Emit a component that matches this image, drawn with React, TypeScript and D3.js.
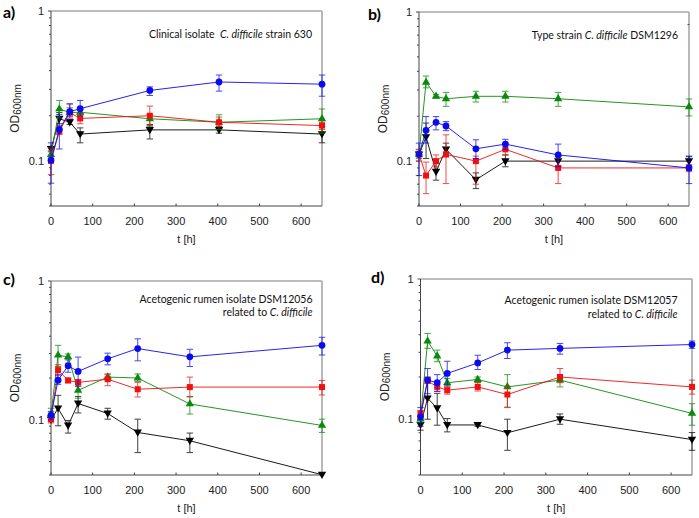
import React from 'react';
import * as d3 from 'd3';

// ---------- data ----------
const TIME_A = [0, 20, 45, 70, 237, 403, 650];
const TIME_B = [0, 17, 41, 65, 137, 208, 335, 650];
const TIME_C = [0, 17, 41, 65, 136, 208, 333, 650];
const TIME_D = [0, 17, 40, 64, 137, 208, 334, 650];

// panel a
const A_BLUE = [0.101, 0.162, 0.213, 0.223, 0.295, 0.336, 0.325];
const A_BLUE_HI = [0.132, 0.204, 0.24, 0.253, 0.312, 0.374, 0.374];
const A_BLUE_LO = [0.071, 0.12, 0.193, 0.2, 0.273, 0.292, 0.27];
const A_RED = [0.1, 0.158, 0.21, 0.192, 0.2, 0.181, 0.172];
const A_RED_HI = [0.122, 0.172, 0.24, 0.207, 0.232, 0.196, 0.181];
const A_RED_LO = [0.081, 0.15, 0.198, 0.177, 0.172, 0.17, 0.162];
const A_GREEN = [0.11, 0.222, 0.21, 0.211, 0.191, 0.181, 0.191];
const A_GREEN_HI = [0.118, 0.253, 0.226, 0.22, 0.204, 0.203, 0.222];
const A_GREEN_LO = [0.104, 0.193, 0.2, 0.204, 0.17, 0.162, 0.153];
const A_BLACK = [0.12, 0.191, 0.181, 0.151, 0.161, 0.161, 0.151];
const A_BLACK_HI = [0.125, 0.21, 0.188, 0.166, 0.175, 0.17, 0.17];
const A_BLACK_LO = [0.115, 0.177, 0.175, 0.132, 0.14, 0.153, 0.132];

// panel b
const B_BLUE = [0.111, 0.161, 0.182, 0.172, 0.121, 0.13, 0.11, 0.09];
const B_BLUE_HI = [0.132, 0.199, 0.199, 0.184, 0.139, 0.14, 0.13, 0.107];
const B_BLUE_LO = [0.08, 0.132, 0.162, 0.16, 0.104, 0.12, 0.0916, 0.0707];
const B_RED = [0.111, 0.08, 0.1, 0.111, 0.1, 0.12, 0.09, 0.09];
const B_RED_HI = [0.12, 0.0985, 0.11, 0.15, 0.108, 0.132, 0.107, 0.095];
const B_RED_LO = [0.1, 0.0605, 0.0916, 0.0707, 0.07, 0.11, 0.0707, 0.085];
const B_GREEN = [0.111, 0.338, 0.272, 0.262, 0.272, 0.272, 0.262, 0.231];
const B_GREEN_HI = [0.119, 0.372, 0.28, 0.289, 0.294, 0.294, 0.289, 0.261];
const B_GREEN_LO = [0.104, 0.31, 0.265, 0.233, 0.249, 0.249, 0.233, 0.201];
const B_BLACK = [0.111, 0.145, 0.085, 0.12, 0.075, 0.1, 0.1, 0.1];
const B_BLACK_HI = [0.115, 0.18, 0.0964, 0.132, 0.0834, 0.11, 0.108, 0.108];
const B_BLACK_LO = [0.107, 0.104, 0.0745, 0.107, 0.0654, 0.0916, 0.0925, 0.0916];

// panel c
const C_BLUE = [0.108, 0.193, 0.245, 0.223, 0.275, 0.326, 0.284, 0.344];
const C_BLUE_HI = [0.115, 0.21, 0.27, 0.283, 0.302, 0.383, 0.322, 0.393];
const C_BLUE_LO = [0.1, 0.18, 0.22, 0.174, 0.249, 0.266, 0.242, 0.293];
const C_RED = [0.101, 0.228, 0.192, 0.186, 0.196, 0.166, 0.172, 0.172];
const C_RED_HI = [0.105, 0.249, 0.2, 0.195, 0.214, 0.186, 0.203, 0.192];
const C_RED_LO = [0.095, 0.211, 0.185, 0.178, 0.176, 0.146, 0.146, 0.151];
const C_GREEN = [0.11, 0.292, 0.284, 0.163, 0.203, 0.2, 0.13, 0.091];
const C_GREEN_HI = [0.121, 0.344, 0.298, 0.184, 0.211, 0.214, 0.147, 0.101];
const C_GREEN_LO = [0.101, 0.242, 0.256, 0.143, 0.194, 0.189, 0.11, 0.0811];
const C_BLACK = [0.1, 0.121, 0.091, 0.131, 0.111, 0.081, 0.0706, 0.0402];
const C_BLACK_HI = [0.104, 0.15, 0.0989, 0.147, 0.121, 0.101, 0.0802, 0.0402];
const C_BLACK_LO = [0.097, 0.0905, 0.0802, 0.112, 0.101, 0.058, 0.058, 0.0402];

// panel d
const D_BLUE = [0.104, 0.19, 0.182, 0.212, 0.252, 0.311, 0.32, 0.341];
const D_BLUE_HI = [0.121, 0.23, 0.208, 0.259, 0.286, 0.351, 0.347, 0.361];
const D_BLUE_LO = [0.089, 0.152, 0.158, 0.175, 0.226, 0.271, 0.291, 0.32];
const D_RED = [0.11, 0.188, 0.17, 0.161, 0.17, 0.15, 0.2, 0.17];
const D_RED_HI = [0.115, 0.2, 0.185, 0.17, 0.182, 0.172, 0.23, 0.19];
const D_RED_LO = [0.105, 0.18, 0.158, 0.151, 0.159, 0.121, 0.182, 0.151];
const D_GREEN = [0.1, 0.361, 0.282, 0.182, 0.192, 0.17, 0.19, 0.11];
const D_GREEN_HI = [0.105, 0.409, 0.311, 0.195, 0.2, 0.208, 0.206, 0.129];
const D_GREEN_LO = [0.095, 0.32, 0.257, 0.17, 0.183, 0.122, 0.17, 0.0906];
const D_BLACK = [0.091, 0.141, 0.12, 0.091, 0.091, 0.08, 0.1, 0.0716];
const D_BLACK_HI = [0.1, 0.199, 0.153, 0.101, 0.093, 0.1, 0.109, 0.0803];
const D_BLACK_LO = [0.0835, 0.1, 0.0906, 0.0812, 0.089, 0.06, 0.092, 0.06];

const X_TICKS = [0, 100, 200, 300, 400, 500, 600];
const Y_LABELS = [0.1, 1];
const PANEL_LETTERS = ['a)', 'b)', 'c)', 'd)'];
const X_TITLE = 't [h]';
const NOTE_A = [[['Clinical isolate\u00a0\u00a0', false], ['C. difficile', true], [' strain 630', false]]];
const NOTE_B = [[['Type strain ', false], ['C. difficile', true], [' DSM1296', false]]];
const NOTE_C = [[['Acetogenic rumen isolate DSM12056', false]], [['related to ', false], ['C. difficile', true]]];
const NOTE_D = [[['Acetogenic rumen isolate DSM12057', false]], [['related to ', false], ['C. difficile', true]]];

// ---------- styles ----------
const COLORS = { black: '#000000', green: '#0a8a0a', red: '#f01010', blue: '#0a0af0' };
const SHAPES = {
  black: { type: d3.symbolTriangle, size: 30, rot: 180 },
  green: { type: d3.symbolTriangle, size: 30, rot: 0 },
  red: { type: d3.symbolSquare, size: 36, rot: 0 },
  blue: { type: d3.symbolCircle, size: 36, rot: 0 },
};

const mk = (v, hi, lo) => ({ v, hi, lo });

const PANELS = [
  {
    letter: PANEL_LETTERS[0], time: TIME_A, yMin: 0.05,
    box: { left: 51, right: 322, top: 11, bottom: 206 },
    letterPos: [3, 18], notes: NOTE_A, noteX: 312, noteY: [37.5], noteW: [158],
    series: {
      black: mk(A_BLACK, A_BLACK_HI, A_BLACK_LO), green: mk(A_GREEN, A_GREEN_HI, A_GREEN_LO),
      red: mk(A_RED, A_RED_HI, A_RED_LO), blue: mk(A_BLUE, A_BLUE_HI, A_BLUE_LO),
    },
  },
  {
    letter: PANEL_LETTERS[1], time: TIME_B, yMin: 0.05,
    box: { left: 419, right: 689, top: 12, bottom: 206 },
    letterPos: [368, 20], notes: NOTE_B, noteX: 678, noteY: [38.5], noteW: [141], stray: true,
    series: {
      black: mk(B_BLACK, B_BLACK_HI, B_BLACK_LO), green: mk(B_GREEN, B_GREEN_HI, B_GREEN_LO),
      red: mk(B_RED, B_RED_HI, B_RED_LO), blue: mk(B_BLUE, B_BLUE_HI, B_BLUE_LO),
    },
  },
  {
    letter: PANEL_LETTERS[2], time: TIME_C, yMin: 0.04,
    box: { left: 51, right: 322, top: 281, bottom: 475 },
    letterPos: [3, 285], notes: NOTE_C, noteX: 312.5, noteY: [302.5, 316], noteW: [165, 90],
    series: {
      black: mk(C_BLACK, C_BLACK_HI, C_BLACK_LO), green: mk(C_GREEN, C_GREEN_HI, C_GREEN_LO),
      red: mk(C_RED, C_RED_HI, C_RED_LO), blue: mk(C_BLUE, C_BLUE_HI, C_BLUE_LO),
    },
  },
  {
    letter: PANEL_LETTERS[3], time: TIME_D, yMin: 0.04,
    box: { left: 420.5, right: 692, top: 279, bottom: 475 },
    letterPos: [371, 283], notes: NOTE_D, noteX: 677.5, noteY: [304, 317.5], noteW: [164.5, 89],
    series: {
      black: mk(D_BLACK, D_BLACK_HI, D_BLACK_LO), green: mk(D_GREEN, D_GREEN_HI, D_GREEN_LO),
      red: mk(D_RED, D_RED_HI, D_RED_LO), blue: mk(D_BLUE, D_BLUE_HI, D_BLUE_LO),
    },
  },
];

const ORDER = ['black', 'green', 'red', 'blue'];
const TICK_FONT = '"Liberation Sans", Arial, sans-serif';
const NOTE_FONT = 'Lato, "Open Sans", sans-serif';

function Panel({ p }) {
  const { left, right, top, bottom } = p.box;
  const x = d3.scaleLinear().domain([0, 650]).range([left, right]);
  const y = d3.scaleLog().domain([p.yMin, 1]).range([bottom, top]);
  const minor = y.ticks().filter((t) => !Y_LABELS.some((m) => Math.abs(m - t) < 1e-9));
  const line = d3.line().x((d) => x(d[0])).y((d) => y(d[1]));
  const capW = 3.2;

  return (
    <g>
      {/* frame */}
      <line x1={left} x2={right} y1={top} y2={top} stroke="#7a7a7a" strokeWidth={1} />
      <line x1={right} x2={right} y1={top} y2={bottom} stroke="#a8a8a8" strokeWidth={1.6} />
      <line x1={left} x2={left} y1={top} y2={bottom} stroke="#444" strokeWidth={1} />
      <line x1={left} x2={right} y1={bottom} y2={bottom} stroke="#444" strokeWidth={1} />

      {/* y ticks */}
      {minor.map((t, i) => (
        <line key={'m' + i} x1={left - 2} x2={left} y1={y(t)} y2={y(t)} stroke="#444" strokeWidth={1} />
      ))}
      {Y_LABELS.map((t) => (
        <g key={'y' + t}>
          <line x1={left - 3} x2={left} y1={y(t)} y2={y(t)} stroke="#444" strokeWidth={1} />
          <text x={left - 7} y={y(t) + 4} textAnchor="end" fontFamily={TICK_FONT} fontSize={11} fill="#222">
            {String(t)}
          </text>
        </g>
      ))}

      {/* x ticks */}
      {X_TICKS.map((t) => (
        <g key={'x' + t}>
          <line x1={x(t)} x2={x(t)} y1={bottom} y2={bottom - 2.5} stroke="#444" strokeWidth={1} />
          <text x={x(t)} y={bottom + 19} textAnchor="middle" fontFamily={TICK_FONT} fontSize={11} fill="#222">
            {t}
          </text>
        </g>
      ))}

      {/* axis titles */}
      <text x={(left + right) / 2} y={bottom + 37} textAnchor="middle" fontFamily={TICK_FONT} fontSize={11} fill="#222">
        {X_TITLE}
      </text>
      <text
        transform={`translate(${left - 32},${(top + bottom) / 2}) rotate(-90)`}
        textAnchor="middle"
        fontFamily={TICK_FONT}
        fontSize={12}
        fill="#222"
      >
        OD<tspan fontSize={10} dy={1.5}>600nm</tspan>
      </text>

      {/* panel letter */}
      <text x={p.letterPos[0]} y={p.letterPos[1]} fontFamily={NOTE_FONT} fontWeight="bold" fontSize={16} fill="#000">
        {p.letter}
      </text>

      {/* annotation */}
      {p.notes.map((ln, i) => (
        <text
          key={'n' + i}
          x={p.noteX}
          y={p.noteY[i]}
          textAnchor="end"
          fontFamily={NOTE_FONT}
          fontSize={10.5}
          fill="#111"
        >
          {ln.map(([s, it], j) => (
            <tspan key={j} fontStyle={it ? 'italic' : 'normal'}>{s}</tspan>
          ))}
        </text>
      ))}
      {p.stray && <line x1={right - 1.5} x2={right + 0.5} y1={24.5} y2={24.5} stroke="#555" strokeWidth={1} />}

      {/* series */}
      {ORDER.map((key) => {
        const s = p.series[key];
        const c = COLORS[key];
        const pts = p.time.map((t, i) => [t, s.v[i]]);
        const sh = SHAPES[key];
        const path = d3.symbol().type(sh.type).size(sh.size)();
        return (
          <g key={key}>
            <path d={line(pts)} fill="none" stroke={c} strokeWidth={0.9} />
            {p.time.map((t, i) => {
              const cx = x(t);
              const yh = y(s.hi[i]);
              const yl = y(s.lo[i]);
              if (Math.abs(yh - yl) < 0.5) return null;
              return (
                <g key={'e' + i} stroke={c} strokeWidth={1} opacity={0.75}>
                  <line x1={cx} x2={cx} y1={yh} y2={yl} />
                  <line x1={cx - capW} x2={cx + capW} y1={yh} y2={yh} />
                  <line x1={cx - capW} x2={cx + capW} y1={yl} y2={yl} />
                </g>
              );
            })}
            {p.time.map((t, i) => (
              <path
                key={'p' + i}
                d={path}
                transform={`translate(${x(t)},${y(s.v[i]) + (sh.rot ? -0.5 : 0)}) rotate(${sh.rot})`}
                fill={c}
              />
            ))}
          </g>
        );
      })}
    </g>
  );
}

export default function App() {
  return (
    <svg
      width={699}
      height={518}
      style={{ position: 'absolute', left: 0, top: 0, background: '#fff' }}
      xmlns="http://www.w3.org/2000/svg"
    >
      <rect x={0} y={0} width={699} height={518} fill="#fff" />
      {PANELS.map((p) => (
        <Panel key={p.letter} p={p} />
      ))}
    </svg>
  );
}
